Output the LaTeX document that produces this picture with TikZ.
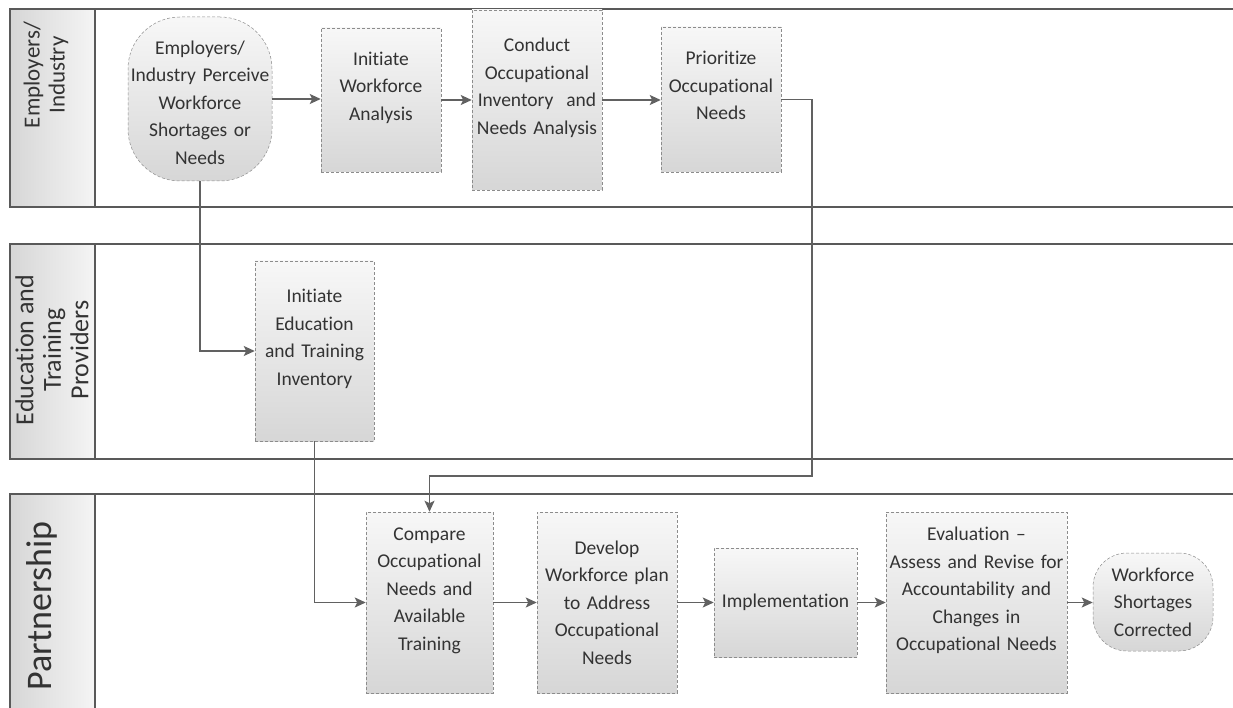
\documentclass[tikz,border=0pt]{standalone}
\usepackage{fontspec}
\setmainfont{Carlito}[Ligatures={NoCommon}]
\usetikzlibrary{arrows.meta}
\begin{document}
\begin{tikzpicture}[x=1pt,y=-1pt,
  lanel/.style={draw=black!65,line width=1.4pt},
  hdrfill/.style={left color=black!16,right color=black!4,draw=none},
  pbox/.style={draw=black!45,densely dashed,line width=0.5pt,top color=black!3,bottom color=black!16,
     inner sep=0pt,align=center,text=black!80,font=\fontsize{19.5}{27.5}\selectfont},
  arr/.style={draw=black!62,line width=1.5pt,-{Stealth[length=11pt,width=10pt,inset=2.5pt]}},
  hdr/.style={rotate=90,align=center,text=black!80}]
\useasboundingbox (0,0) rectangle (1233,708);
% lane headers
\fill[hdrfill] (10,9) rectangle (95,207);
\fill[hdrfill] (10,244) rectangle (95,459);
\fill[hdrfill] (10,494) rectangle (95,708);
% lane lines
\draw[lanel] (1233,9) -- (10,9) -- (10,207) -- (1233,207);
\draw[lanel] (95,9) -- (95,207);
\draw[lanel] (1233,244) -- (10,244) -- (10,459) -- (1233,459);
\draw[lanel] (95,244) -- (95,459);
\draw[lanel] (1233,494) -- (10,494) -- (10,710);
\draw[lanel] (95,494) -- (95,710);
% header texts
\node[hdr,font=\fontsize{23}{25}\selectfont] (h1) at (46,75) {Employers/\\Industry};
\node[hdr,font=\fontsize{26}{27.5}\selectfont] (h2) at (52,350) {Education and\\Training\\Providers};
\node[hdr,font=\fontsize{36}{40}\selectfont] (h3) at (42,606) {Partnership};
% nodes
\node[pbox,rounded corners=52pt,minimum width=144pt,minimum height=164pt,text width=142pt] (emp) at (200,99)
  {\mbox{}\\[-7pt]Employers/\\Industry Perceive\\Workforce\\Shortages or\\Needs};
\node[pbox,minimum width=120pt,minimum height=144pt,text width=118pt] (iwa) at (381,100)
  {Initiate\\Workforce\\Analysis\\\mbox{}};
\node[pbox,minimum width=130pt,minimum height=180pt,text width=128pt] (coi) at (537,100)
  {Conduct\\Occupational\\Inventory~ and\\Needs Analysis\\\mbox{}};
\node[pbox,minimum width=120pt,minimum height=145pt,text width=118pt] (pon) at (721,99.5)
  {Prioritize\\Occupational\\Needs\\\mbox{}};
\node[pbox,minimum width=119pt,minimum height=180pt,text width=117pt] (eti) at (314.5,351)
  {Initiate\\Education\\and Training\\Inventory\\\mbox{}};
\node[pbox,minimum width=127pt,minimum height=181pt,text width=125pt] (cmp) at (429.5,602.5)
  {Compare\\Occupational\\Needs and\\Available\\Training\\\mbox{}};
\node[pbox,minimum width=140pt,minimum height=181pt,text width=138pt] (dev) at (607,602.5)
  {Develop\\Workforce plan\\to Address\\Occupational\\Needs};
\node[pbox,minimum width=143pt,minimum height=109pt,text width=141pt] (imp) at (785.5,602.5)
  {Implementation};
\node[pbox,minimum width=181pt,minimum height=181pt,text width=179pt] (evl) at (976.5,602.5)
  {Evaluation --\\Assess and Revise for\\Accountability and\\Changes in\\Occupational Needs\\\mbox{}};
\node[pbox,rounded corners=34pt,minimum width=120pt,minimum height=98pt,text width=118pt] (wsc) at (1153,602)
  {Workforce\\Shortages\\Corrected};
% connectors
\coordinate (c1) at (812,476);
\draw[arr] (emp.east) -- (emp.east -| iwa.west);
\draw[arr] (iwa.east) -- (coi.west);
\draw[arr] (coi.east) -- (coi.east -| pon.west);
\draw[arr] (pon.east) -| (c1) -| (cmp.north);
\draw[arr] (emp.south) |- (eti.west);
\draw[arr] (eti.south) |- (cmp.west);
\draw[arr] (cmp.east) -- (cmp.east -| dev.west);
\draw[arr] (dev.east) -- (dev.east -| imp.west);
\draw[arr] (imp.east) -- (imp.east -| evl.west);
\draw[arr] (evl.east) -- (evl.east -| wsc.west);
\end{tikzpicture}
\end{document}
